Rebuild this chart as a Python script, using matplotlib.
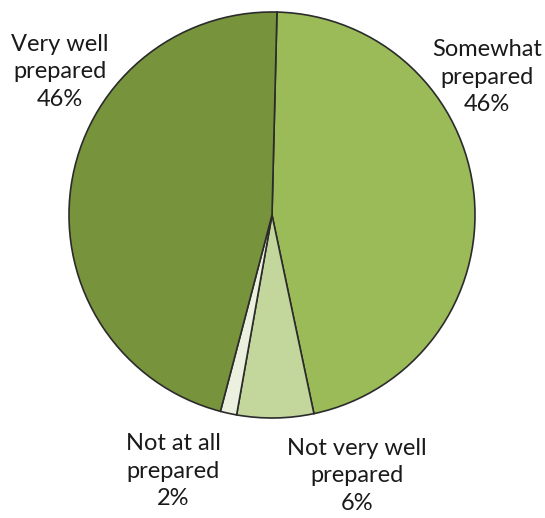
import matplotlib
matplotlib.use("Agg")
import matplotlib.pyplot as plt

# slices, clockwise from the top
categories = ["Somewhat\nprepared", "Not very well\nprepared", "Not at all\nprepared", "Very well\nprepared"]
shares = [46.3, 6.1, 1.3, 46.3]
pct_labels = ["46%", "6%", "2%", "46%"]
colors = ["#9BBB59", "#C3D69B", "#EBF1DE", "#77933C"]

W, H = 545, 518
cx, cy, R = 272, 215, 203

plt.rcParams['font.family'] = ['Lato', 'DejaVu Sans']
fig = plt.figure(figsize=(W / 100, H / 100), dpi=100)
ax = fig.add_axes([0, 0, 1, 1])

ax.pie(shares, colors=colors, startangle=88.6, counterclock=False, radius=R,
       wedgeprops=dict(edgecolor="#2b2b2b", linewidth=1.2))

# pie() resets the limits, so set pixel-like limits afterwards
ax.set_xlim(-cx, W - cx)
ax.set_ylim(-(H - cy), cy)
ax.set_aspect('equal')
ax.axis('off')

# label positions in pixels (centre of text block)
label_pos = [(487, 77), (357, 476), (173, 471), (60, 72)]
for name, pct, (px, py) in zip(categories, pct_labels, label_pos):
    ax.text(px - cx, cy - py, name + "\n" + pct, ha="center", va="center",
            fontsize=17, linespacing=1.4, color="#1a1a1a")

fig.savefig("out.png", dpi=100)
